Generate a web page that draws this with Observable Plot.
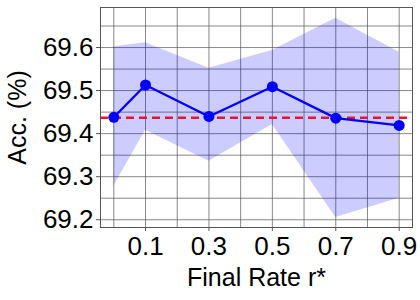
<!DOCTYPE html>
<html>
<head>
<meta charset="utf-8">
<script src="https://cdn.jsdelivr.net/npm/d3@7"></script>
<script src="https://cdn.jsdelivr.net/npm/@observablehq/plot@0.6"></script>
<style>
  html, body { margin: 0; padding: 0; background: white; }
  g[aria-label="x-axis label"] text, g[aria-label="y-axis label"] text { font-size: 25px; }
</style>
</head>
<body>
<div id="chart"></div>
<script>
// Data
const rates = [0, 0.1, 0.3, 0.5, 0.7, 0.9];
const acc = [69.438, 69.513, 69.440, 69.509, 69.436, 69.419];
const accUpper = [69.602, 69.611, 69.552, 69.593, 69.668, 69.589];
const accLower = [69.278, 69.408, 69.336, 69.421, 69.205, 69.250];
const baselineAcc = [69.437];
const xTickValues = [0.1, 0.3, 0.5, 0.7, 0.9];
const yTickValues = [69.2, 69.3, 69.4, 69.5, 69.6];
const xGridValues = [0, 0.1, 0.2, 0.3, 0.4, 0.5, 0.6, 0.7, 0.8, 0.9];
const yGridValues = [69.2, 69.25, 69.3, 69.35, 69.4, 69.45, 69.5, 69.55, 69.6, 69.65];

const rows = rates.map((r, i) => ({r, acc: acc[i], lo: accLower[i], hi: accUpper[i]}));
const font = "'Liberation Sans', Arial, Helvetica, sans-serif";

const chart = Plot.plot({
  width: 420,
  height: 300,
  marginLeft: 100,
  marginRight: 8,
  marginTop: 7,
  marginBottom: 73,
  style: {fontFamily: font, fontSize: "26px", background: "white", color: "black"},
  x: {domain: [-0.042, 0.942]},
  y: {domain: [69.182, 69.693]},
  marks: [
    Plot.ruleX(xGridValues, {stroke: "#555", strokeOpacity: 0.7, strokeWidth: 1}),
    Plot.ruleY(yGridValues, {stroke: "#555", strokeOpacity: 0.7, strokeWidth: 1}),
    Plot.areaY(rows, {x: "r", y1: "lo", y2: "hi", fill: "#0000ff", fillOpacity: 0.2}),
    Plot.ruleY(baselineAcc, {stroke: "#ee1133", strokeWidth: 2.5, strokeDasharray: "8,5"}),
    Plot.line(rows, {x: "r", y: "acc", stroke: "#0000ff", strokeWidth: 2.3}),
    Plot.dot(rows, {x: "r", y: "acc", r: 5.5, fill: "#0000ff", stroke: "none"}),
    Plot.axisX({ticks: xTickValues, tickFormat: d => d.toFixed(1), tickSize: 4, tickPadding: 5,
      fontSize: 26, stroke: "#555",
      label: "Final Rate r*", labelAnchor: "center", labelArrow: "none", labelOffset: 58}),
    Plot.axisY({ticks: yTickValues, tickFormat: d => d.toFixed(1), tickSize: 4, tickPadding: 3,
      fontSize: 26, stroke: "#555",
      label: "Acc. (%)", labelAnchor: "center", labelArrow: "none", labelOffset: 92}),
    Plot.frame({stroke: "#555", strokeWidth: 1})
  ]
});
document.getElementById("chart").appendChild(chart);
</script>
</body>
</html>
